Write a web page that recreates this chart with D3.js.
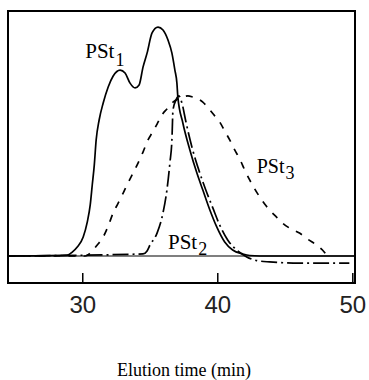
<!DOCTYPE html>
<html>
<head>
<meta charset="utf-8">
<script src="https://cdn.jsdelivr.net/npm/d3@7"></script>
<style>
  html, body { margin: 0; padding: 0; background: #fff; }
  svg { display: block; }
  .serif { font-family: "Liberation Serif", "Times New Roman", serif; }
  .sans { font-family: "Liberation Sans", Arial, sans-serif; }
</style>
</head>
<body>
<svg id="chart" width="369" height="380"></svg>
<script>
// ---- data (elution time in min, normalized detector response) ----
const pst1T = [24.54, 28.89, 29.26, 29.63, 30.07, 30.37, 30.59, 30.74, 30.89, 31.03, 31.25, 31.55, 31.92, 32.29, 32.80, 33.17, 33.54, 33.91, 34.21, 34.50, 34.80, 35.17, 35.61, 35.98, 36.35, 36.64, 36.86, 37.01, 37.08, 37.45, 37.97, 38.49, 38.93, 39.45, 39.96, 40.55, 41.14, 41.88, 42.40, 43.14, 50.15];
const pst1V = [0, 0.004, 0.017, 0.039, 0.083, 0.148, 0.223, 0.310, 0.397, 0.507, 0.594, 0.668, 0.738, 0.786, 0.812, 0.799, 0.755, 0.734, 0.747, 0.825, 0.886, 0.974, 1.000, 0.987, 0.943, 0.886, 0.812, 0.755, 0.694, 0.581, 0.463, 0.362, 0.288, 0.201, 0.127, 0.061, 0.026, 0.009, 0.002, 0, 0];

const pst2T = [24.54, 34.50, 34.80, 35.02, 35.54, 35.98, 36.27, 36.49, 36.64, 36.72, 36.94, 37.16, 37.38, 37.68, 38.12, 38.63, 39.15, 39.67, 40.18, 40.77, 41.44, 42.18, 42.92, 43.87, 46.09, 49.78];
const pst2V = [0, 0.009, 0.022, 0.048, 0.100, 0.188, 0.288, 0.406, 0.507, 0.638, 0.681, 0.699, 0.668, 0.585, 0.476, 0.376, 0.288, 0.210, 0.135, 0.070, 0.026, -0.004, -0.020, -0.026, -0.031, -0.031];

const pst3T = [24.54, 30.22, 30.59, 31.11, 31.55, 31.92, 32.29, 32.66, 33.03, 33.39, 33.76, 34.13, 34.50, 34.87, 35.17, 35.54, 35.90, 36.27, 36.72, 37.08, 37.45, 37.82, 38.19, 38.56, 38.93, 39.45, 39.82, 40.18, 40.55, 40.92, 41.29, 41.66, 42.03, 42.40, 42.77, 43.14, 43.51, 43.87, 44.39, 44.83, 45.35, 46.09, 46.68, 47.34, 47.79, 48.15];
const pst3V = [0, 0, 0.013, 0.048, 0.083, 0.131, 0.188, 0.231, 0.275, 0.319, 0.362, 0.406, 0.454, 0.507, 0.537, 0.576, 0.616, 0.642, 0.672, 0.686, 0.694, 0.699, 0.694, 0.686, 0.672, 0.638, 0.611, 0.585, 0.546, 0.507, 0.463, 0.424, 0.376, 0.332, 0.293, 0.258, 0.227, 0.201, 0.170, 0.144, 0.122, 0.100, 0.074, 0.048, 0.026, 0];

const xTicks = [30, 40, 50];
const xTitle = "Elution time (min)";
const seriesNames = ["PSt", "PSt", "PSt"];
const seriesSubs = ["1", "2", "3"];
const labelT = [30.22, 36.35, 42.92];
const labelV = [0.865, 0.031, 0.362];

// ---- layout ----
const L = 8, R = 355, T = 11, B = 283;
const svg = d3.select("#chart");

const x = d3.scaleLinear().domain([24.5, 50.2]).range([L, R]);
const y = d3.scaleLinear().domain([-0.118, 1.070]).range([B, T]);

// baseline
svg.append("line")
  .attr("x1", x(24.5)).attr("x2", x(50.2))
  .attr("y1", y(0)).attr("y2", y(0))
  .attr("stroke", "#000").attr("stroke-width", 1.1);

const line = d3.line().x(d => x(d[0])).y(d => y(d[1])).curve(d3.curveMonotoneX);
const zip = (a, b) => a.map((v, i) => [v, b[i]]);

const series = [
  { data: zip(pst1T, pst1V), dash: null },
  { data: zip(pst2T, pst2V), dash: "16,4,2,4" },
  { data: zip(pst3T, pst3V), dash: "7,8" }
];

svg.append("g").selectAll("path").data(series).join("path")
  .attr("d", d => line(d.data))
  .attr("fill", "none")
  .attr("stroke", "#000")
  .attr("stroke-width", 1.7)
  .attr("stroke-dasharray", d => d.dash);

// x axis (ticks inward)
const axis = d3.axisBottom(x).tickValues(xTicks).tickFormat(d3.format("d"))
  .tickSizeInner(-10).tickSizeOuter(0).tickPadding(13);
const gx = svg.append("g").attr("transform", `translate(0,${B})`).call(axis);
gx.attr("font-family", null).attr("font-size", null);
gx.select(".domain").remove();
gx.selectAll(".tick line").attr("stroke", "#000").attr("stroke-width", 1.5);
gx.selectAll(".tick text")
  .attr("class", "sans")
  .style("font-size", "24px").attr("fill", "#222");

// frame
svg.append("rect")
  .attr("x", L).attr("y", T).attr("width", R - L).attr("height", B - T)
  .attr("fill", "none").attr("stroke", "#000").attr("stroke-width", 2);

// series labels
seriesNames.forEach((n, i) => {
  const t = svg.append("text")
    .attr("class", "serif")
    .attr("x", x(labelT[i])).attr("y", y(labelV[i]))
    .style("font-size", (i === 2 ? 20 : 21) + "px").attr("fill", "#000");
  t.append("tspan").text(n);
  t.append("tspan").attr("dy", i === 0 ? 8 : 6).attr("dx", 1).style("font-size", "18px").text(seriesSubs[i]);
});

// x title
svg.append("text")
  .attr("class", "serif")
  .attr("x", 184).attr("y", 376)
  .attr("text-anchor", "middle")
  .style("font-size", "18px").attr("fill", "#000")
  .text(xTitle);
</script>
</body>
</html>
